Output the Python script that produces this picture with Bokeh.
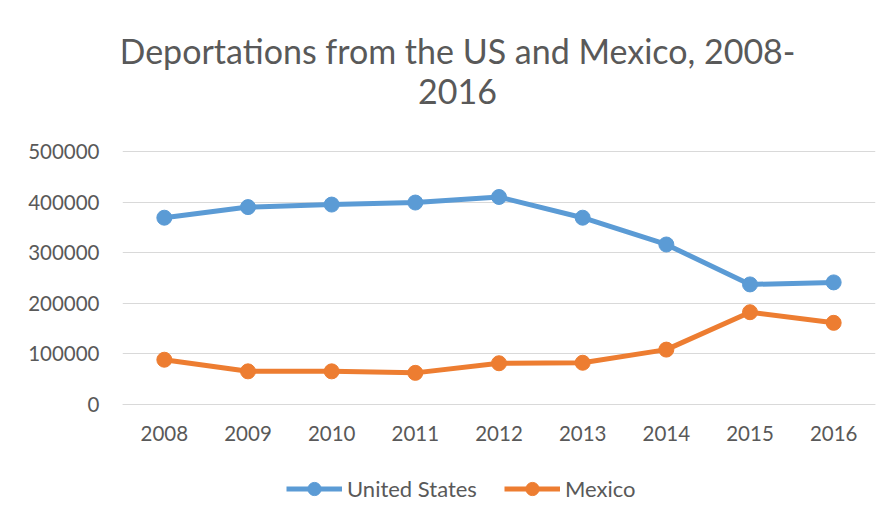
from bokeh.plotting import figure
from bokeh.models import (Range1d, FactorRange, FixedTicker, BasicTickFormatter,
                          Label, Legend, LegendItem, ColumnDataSource)
from bokeh.embed import file_html
from bokeh.resources import INLINE

years = ["2008", "2009", "2010", "2011", "2012", "2013", "2014", "2015", "2016"]
united_states = [369000, 390000, 395000, 399000, 410000, 369000, 316000, 237000, 241000]
mexico = [88000, 65000, 65000, 62000, 81000, 82000, 108000, 182000, 161000]
y_ticks = [0, 100000, 200000, 300000, 400000, 500000]
y_max = 500000
title_line1 = "Deportations from the US and Mexico, 2008-"
title_line2 = "2016"

BLUE = "#5B9BD5"
ORANGE = "#ED7D31"
TEXT = "#595959"
GRID = "#D9D9D9"
FONT = "Lato"

# layout (pixels). The frame spans the whole height of the chart area so that the
# two-line title and the legend (drawn as frame annotations) are not clipped.
W, H = 886, 520
FRAME_LEFT, FRAME_RIGHT = 122, 875
FRAME_TOP, FRAME_BOTTOM = 0, 515
TOP_PX, ZERO_PX = 151.0, 403.7        # pixel rows of the 500000 and 0 grid lines
units_per_px = y_max / (ZERO_PX - TOP_PX)
y_start = -(FRAME_BOTTOM - ZERO_PX) * units_per_px
y_end = y_max + (TOP_PX - FRAME_TOP) * units_per_px

src = ColumnDataSource(dict(year=years, us=united_states, mx=mexico))

p = figure(width=W, height=H, output_backend="svg", toolbar_location=None,
           x_range=FactorRange(factors=years, range_padding=0),
           y_range=Range1d(y_start, y_end),
           min_border_left=FRAME_LEFT, min_border_right=W - FRAME_RIGHT,
           min_border_top=FRAME_TOP, min_border_bottom=H - FRAME_BOTTOM)

p.outline_line_color = None
p.background_fill_color = "white"
p.border_fill_color = "white"

# title, two lines, centred a little left of the frame centre as in the reference
TITLE_CX = 457 - FRAME_LEFT
for txt, baseline_px in ((title_line1, 50), (title_line2, 91)):
    p.add_layout(Label(x=TITLE_CX, y=FRAME_BOTTOM - baseline_px,
                       x_units="screen", y_units="screen", text=txt,
                       text_align="center", text_baseline="alphabetic",
                       text_font=FONT, text_font_size="34px",
                       text_color=TEXT))

p.xgrid.grid_line_color = None
p.ygrid.grid_line_color = GRID
p.ygrid.grid_line_width = 1
p.ygrid.ticker = FixedTicker(ticks=y_ticks)

p.yaxis.ticker = FixedTicker(ticks=y_ticks)
p.yaxis.formatter = BasicTickFormatter(use_scientific=False)
p.yaxis.axis_line_color = None
p.yaxis.major_tick_line_color = None
p.yaxis.minor_tick_line_color = None
p.yaxis.major_label_standoff = 17
p.yaxis.major_label_text_font = FONT
p.yaxis.major_label_text_font_size = "20.5px"
p.yaxis.major_label_text_color = TEXT

p.xaxis.fixed_location = 0
p.xaxis.axis_line_color = GRID
p.xaxis.major_tick_line_color = None
p.xaxis.minor_tick_line_color = None
p.xaxis.major_label_standoff = 16
p.xaxis.major_label_text_font = FONT
p.xaxis.major_label_text_font_size = "20.5px"
p.xaxis.major_label_text_color = TEXT

l1 = p.line("year", "us", source=src, line_color=BLUE, line_width=5)
c1 = p.scatter("year", "us", source=src, size=15, fill_color=BLUE, line_color=BLUE)
l2 = p.line("year", "mx", source=src, line_color=ORANGE, line_width=5)
c2 = p.scatter("year", "mx", source=src, size=15, fill_color=ORANGE, line_color=ORANGE)

legend = Legend(items=[LegendItem(label="United States", renderers=[l1, c1]),
                       LegendItem(label="Mexico", renderers=[l2, c2])],
                orientation="horizontal", location=(164, 10),
                glyph_width=56, glyph_height=33, label_standoff=5, spacing=27,
                padding=0, margin=0, border_line_color=None,
                background_fill_alpha=0,
                label_text_font=FONT, label_text_font_size="22px",
                label_text_color=TEXT)
p.add_layout(legend, "center")

open("out.html", "w").write(file_html(p, INLINE))
